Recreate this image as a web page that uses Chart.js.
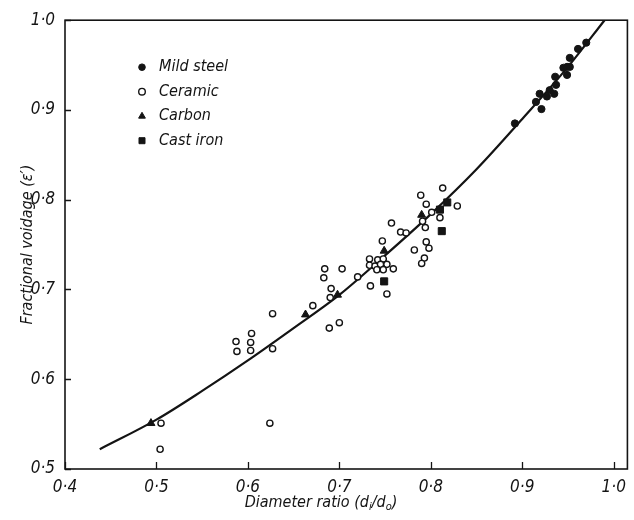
<!DOCTYPE html>
<html lang="en">
<head>
<meta charset="utf-8">
<title>Fractional voidage vs diameter ratio</title>
<script src="https://cdn.jsdelivr.net/npm/chart.js@4.4.1/dist/chart.umd.min.js"></script>
<style>
  html, body { margin: 0; padding: 0; background: #fff; }
  #voidageChart { display: block; }
</style>
</head>
<body>
<canvas id="voidageChart" width="634" height="520"></canvas>
<script>
/* =============================================
   Fractional voidage vs diameter ratio
   ============================================= */

'use strict';

// ========== values ==========
const seriesNames = ['Mild steel', 'Ceramic', 'Carbon', 'Cast iron'];

const mildSteelX = [0.892, 0.915, 0.921, 0.919, 0.927, 0.930, 0.935, 0.937, 0.936, 0.945, 0.949, 0.952, 0.949, 0.952, 0.961, 0.970];
const mildSteelY = [0.885, 0.909, 0.901, 0.918, 0.915, 0.922, 0.918, 0.928, 0.937, 0.947, 0.948, 0.958, 0.939, 0.948, 0.968, 0.975];

const ceramicX = [0.505, 0.504, 0.587, 0.588, 0.604, 0.603, 0.603, 0.627, 0.627, 0.624,
                  0.671, 0.691, 0.690, 0.689, 0.700, 0.684, 0.683, 0.703, 0.720, 0.734,
                  0.752, 0.759, 0.733, 0.742, 0.748, 0.733, 0.739, 0.745, 0.752, 0.741,
                  0.748, 0.747, 0.757, 0.767, 0.773, 0.782, 0.789, 0.795, 0.791, 0.794,
                  0.795, 0.798, 0.793, 0.790, 0.801, 0.810, 0.813, 0.829];
const ceramicY = [0.551, 0.522, 0.642, 0.631, 0.651, 0.641, 0.632, 0.673, 0.634, 0.551,
                  0.682, 0.701, 0.691, 0.657, 0.663, 0.723, 0.713, 0.723, 0.714, 0.704,
                  0.695, 0.723, 0.734, 0.733, 0.734, 0.727, 0.726, 0.728, 0.728, 0.722,
                  0.722, 0.754, 0.774, 0.764, 0.763, 0.744, 0.805, 0.795, 0.776, 0.769,
                  0.753, 0.746, 0.735, 0.729, 0.786, 0.780, 0.813, 0.793];

const carbonX = [0.494, 0.663, 0.698, 0.749, 0.790];
const carbonY = [0.551, 0.672, 0.694, 0.743, 0.783];

const castIronX = [0.749, 0.810, 0.818, 0.812];
const castIronY = [0.709, 0.789, 0.797, 0.765];

// fitted curve, read at intervals along the drawn line
const curveX = [0.438, 0.50, 0.55, 0.60, 0.65, 0.70, 0.75, 0.80, 0.85, 0.90, 0.95, 0.99];
const curveY = [0.522, 0.555, 0.587, 0.621, 0.657, 0.694, 0.738, 0.784, 0.834, 0.890, 0.948, 1.000];

const xTickValues = [0.4, 0.5, 0.6, 0.7, 0.8, 0.9, 1.0];
const xTickLabels = ['0·4', '0·5', '0·6', '0·7', '0·8', '0·9', '1·0'];
const yTickValues = [0.5, 0.6, 0.7, 0.8, 0.9, 1.0];
const yTickLabels = ['0·5', '0·6', '0·7', '0·8', '0·9', '1·0'];

// ========== styling ==========
const INK = '#141414';
const FAMILY = "'DejaVu Sans Condensed', 'DejaVu Sans', sans-serif";

const toPoints = (xs, ys) => xs.map((x, i) => ({ x: x, y: ys[i] }));

const markerStyles = [
    { pointStyle: 'circle',   radius: 3.6, fill: INK,    border: INK, width: 1 },
    { pointStyle: 'circle',   radius: 3.1, fill: '#fff', border: INK, width: 1.4 },
    { pointStyle: 'triangle', radius: 4.6, fill: INK,    border: INK, width: 1 },
    { pointStyle: 'rect',     radius: 5.0, fill: INK,    border: INK, width: 1 }
];

const pointSets = [
    toPoints(mildSteelX, mildSteelY),
    toPoints(ceramicX, ceramicY),
    toPoints(carbonX, carbonY),
    toPoints(castIronX, castIronY)
];

const scatterDatasets = seriesNames.map((name, i) => ({
    type: 'scatter',
    label: name,
    data: pointSets[i],
    order: i,
    pointStyle: markerStyles[i].pointStyle,
    pointRadius: markerStyles[i].radius,
    pointHoverRadius: markerStyles[i].radius,
    pointBackgroundColor: markerStyles[i].fill,
    pointBorderColor: markerStyles[i].border,
    pointBorderWidth: markerStyles[i].width
}));

const curveDataset = {
    type: 'line',
    label: 'curve',
    data: toPoints(curveX, curveY),
    order: 10,
    borderColor: INK,
    borderWidth: 2.2,
    pointRadius: 0,
    fill: false,
    cubicInterpolationMode: 'monotone'
};

// frame, inward ticks, legend and x title with subscripts
const figureDecor = {
    id: 'figureDecor',
    afterDraw(chart) {
        const ctx = chart.ctx;
        const area = chart.chartArea;
        const xs = chart.scales.x;
        const ys = chart.scales.y;

        ctx.save();
        ctx.strokeStyle = INK;
        ctx.lineWidth = 1.6;
        ctx.strokeRect(area.left, area.top, area.right - area.left, area.bottom - area.top);

        ctx.lineWidth = 1.3;
        ctx.beginPath();
        xTickValues.forEach(v => {
            const px = Math.round(xs.getPixelForValue(v)) + 0.5;
            ctx.moveTo(px, area.bottom);
            ctx.lineTo(px, area.bottom - 7);
        });
        yTickValues.forEach(v => {
            const py = Math.round(ys.getPixelForValue(v)) + 0.5;
            ctx.moveTo(area.left, py);
            ctx.lineTo(area.left + 6, py);
        });
        ctx.stroke();

        // legend
        ctx.font = 'italic 16px ' + FAMILY;
        ctx.fillStyle = INK;
        ctx.textBaseline = 'middle';
        seriesNames.forEach((name, i) => {
            const m = markerStyles[i];
            const y = area.top + 47 + i * 24.5;
            ctx.fillStyle = m.fill;
            ctx.strokeStyle = m.border;
            ctx.lineWidth = m.width;
            Chart.helpers.drawPoint(ctx, {
                pointStyle: m.pointStyle,
                radius: m.pointStyle === 'circle' ? 3.3 : m.radius * 0.85,
                rotation: 0,
                borderWidth: m.width
            }, area.left + 77, y);
            ctx.fillStyle = INK;
            ctx.fillText(name, area.left + 94, y);
        });

        // x axis title: Diameter ratio (di/do)
        const parts = [
            { t: 'Diameter ratio (d', sub: false },
            { t: 'i', sub: true },
            { t: '/d', sub: false },
            { t: 'o', sub: true },
            { t: ')', sub: false }
        ];
        const big = 'italic 16px ' + FAMILY;
        const small = 'italic 11px ' + FAMILY;
        let total = 0;
        parts.forEach(p => {
            ctx.font = p.sub ? small : big;
            p.w = ctx.measureText(p.t).width;
            total += p.w;
        });
        let cx = 321 - total / 2;
        const cy = 503;
        ctx.textBaseline = 'middle';
        parts.forEach(p => {
            ctx.font = p.sub ? small : big;
            ctx.fillText(p.t, cx, p.sub ? cy + 4 : cy);
            cx += p.w;
        });
        ctx.restore();
    }
};

const tickFont = { family: FAMILY, size: 17, style: 'italic' };

new Chart(document.getElementById('voidageChart'), {
    data: { datasets: [...scatterDatasets, curveDataset] },
    options: {
        responsive: false,
        animation: false,
        devicePixelRatio: 1,
        layout: { padding: { top: 16, right: 4, left: 0, bottom: 0 } },
        plugins: {
            legend: { display: false },
            tooltip: { enabled: false }
        },
        scales: {
            x: {
                type: 'linear',
                min: 0.4,
                max: 1.015,
                grid: { display: false, drawTicks: false },
                border: { display: false },
                afterBuildTicks: (scale) => { scale.ticks = xTickValues.map(v => ({ value: v })); },
                afterFit: (scale) => { scale.height = 51; },
                ticks: {
                    color: INK,
                    font: tickFont,
                    padding: 8,
                    maxRotation: 0,
                    callback: (v) => xTickLabels[xTickValues.findIndex(t => Math.abs(t - v) < 1e-6)]
                }
            },
            y: {
                type: 'linear',
                min: 0.5,
                max: 1.0,
                grid: { display: false, drawTicks: false },
                border: { display: false },
                afterBuildTicks: (scale) => { scale.ticks = yTickValues.map(v => ({ value: v })); },
                afterFit: (scale) => { scale.width = 65; },
                title: {
                    display: true,
                    text: 'Fractional voidage (ε′)',
                    color: INK,
                    font: { family: FAMILY, size: 16, style: 'italic' },
                    padding: { top: 18, bottom: 0 }
                },
                ticks: {
                    color: INK,
                    font: tickFont,
                    padding: 10,
                    callback: (v) => yTickLabels[yTickValues.findIndex(t => Math.abs(t - v) < 1e-6)]
                }
            }
        }
    },
    plugins: [figureDecor]
});
</script>
</body>
</html>
